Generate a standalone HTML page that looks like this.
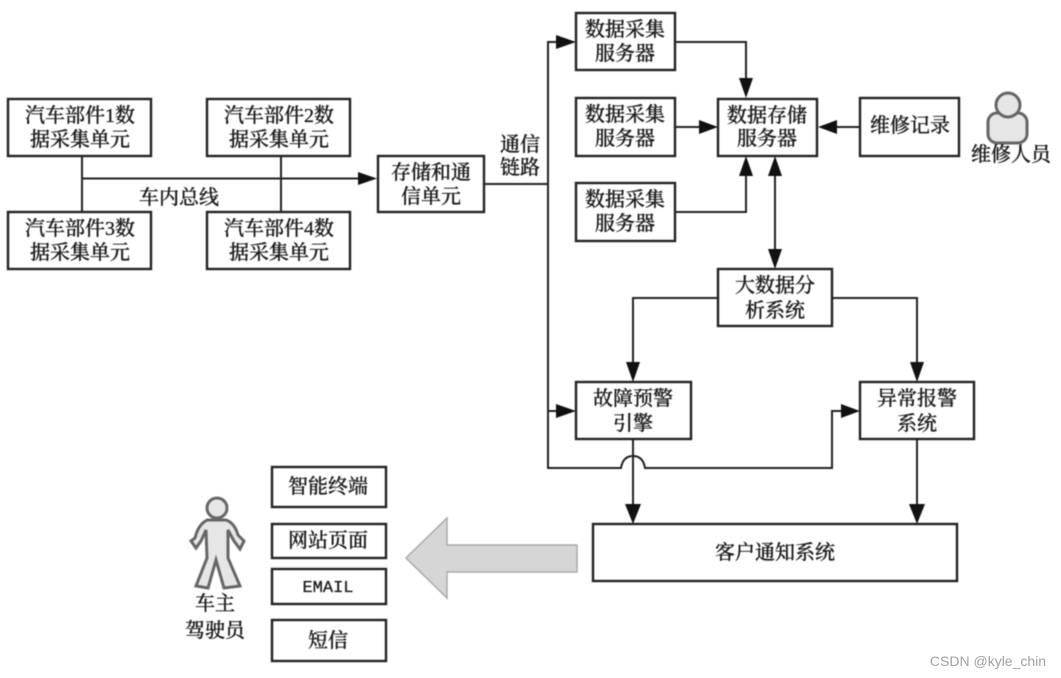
<!DOCTYPE html>
<html lang="zh">
<head>
<meta charset="utf-8">
<style>
html,body{margin:0;padding:0;background:#fff;}
svg{display:block;}
text{font-family:"Liberation Serif","Noto Serif CJK SC",serif;font-size:20px;fill:#1c1c1c;stroke:#1c1c1c;stroke-width:0.3;text-anchor:middle;font-weight:500;}
.b{fill:#fff;stroke:#222;stroke-width:2.4;}
.l{fill:none;stroke:#222;stroke-width:2;}
.a{fill:#111;stroke:none;}
.p{fill:#e6e6e6;stroke:#666;stroke-width:3;}
</style>
</head>
<body>
<svg width="1061" height="678" viewBox="0 0 1061 678" xmlns="http://www.w3.org/2000/svg">
<g style="filter:blur(0.5px)">
<!-- connectors -->
<path class="l" d="M82 156V212M281 156V212M82 178.500H362"/>
<path class="l" d="M484 184H548M560 42H548V468H621Q623 456 633 456Q643 456 645 468H832V411H845"/>
<path class="l" d="M548 411H560"/>
<path class="l" d="M675 42H746V80M675 127H702M675 212H746V172M860 127H834M775 170V255"/>
<path class="l" d="M718 298H633V366M832 298H917V366"/>
<path class="l" d="M633 439V510M917 439V510"/>
<!-- arrowheads -->
<path class="a" d="M377 178.500L358 172V185Z"/>
<path class="a" d="M576 42L556 35V49Z"/>
<path class="a" d="M576 411L556 404V418Z"/>
<path class="a" d="M860 411L841 404V418Z"/>
<path class="a" d="M746 98L739 78H753Z"/>
<path class="a" d="M718 127L699 120V134Z"/>
<path class="a" d="M746 156L739 176H753Z"/>
<path class="a" d="M818 127L837 120V134Z"/>
<path class="a" d="M775 156L768 176H782Z"/>
<path class="a" d="M775 269L768 249H782Z"/>
<path class="a" d="M633 382L626 362H640Z"/>
<path class="a" d="M917 382L910 362H924Z"/>
<path class="a" d="M633 524L625 504H641Z"/>
<path class="a" d="M917 524L909 504H925Z"/>
<!-- boxes -->
<rect class="b" x="8" y="99" width="143" height="57"/>
<rect class="b" x="207" y="99" width="143" height="57"/>
<rect class="b" x="8" y="212" width="143" height="57"/>
<rect class="b" x="207" y="212" width="143" height="57"/>
<rect class="b" x="378" y="156" width="106" height="56"/>
<rect class="b" x="576" y="13" width="99" height="57"/>
<rect class="b" x="576" y="98" width="99" height="58"/>
<rect class="b" x="576" y="183" width="99" height="58"/>
<rect class="b" x="718" y="99" width="99" height="57"/>
<rect class="b" x="860" y="98" width="99" height="58"/>
<rect class="b" x="718" y="269" width="114" height="57"/>
<rect class="b" x="576" y="382" width="115" height="57"/>
<rect class="b" x="860" y="382" width="114" height="57"/>
<rect class="b" x="593" y="524" width="364" height="57"/>
<rect class="b" x="272" y="467" width="114" height="40"/>
<rect class="b" x="272" y="524" width="114" height="34"/>
<rect class="b" x="272" y="569" width="114" height="35"/>
<rect class="b" x="272" y="620" width="114" height="41"/>
<!-- big arrow -->
<path d="M577 545H447V518L406 558L447 598V572H577Z" fill="#d6d6d6" stroke="#aaa" stroke-width="1.500"/>
<!-- maintenance person -->
<rect class="p" x="988" y="113" width="39" height="30" rx="9"/>
<circle class="p" cx="1008" cy="105" r="12"/>
<!-- driver person -->
<path class="p" d="M207 520C200 524 197 530 195 538L191 541L196 548L201 541L206 530L207 558L196 586L208 588L216 560L224 588L240 586L228 558L228 530L234 541L240 549L244 541L238 535C236 528 232 522 226 520Z"/>
<ellipse class="p" cx="217" cy="508" rx="10" ry="10"/>
<!-- labels -->
<text x="80" y="122">汽车部件1数</text>
<text x="80" y="146">据采集单元</text>
<text x="279" y="122">汽车部件2数</text>
<text x="279" y="146">据采集单元</text>
<text x="80" y="235">汽车部件3数</text>
<text x="80" y="259">据采集单元</text>
<text x="279" y="235">汽车部件4数</text>
<text x="279" y="259">据采集单元</text>
<text x="179" y="204">车内总线</text>
<text x="431" y="179">存储和通</text>
<text x="431" y="203">信单元</text>
<text x="520" y="151">通信</text>
<text x="520" y="174">链路</text>
<text x="625" y="36">数据采集</text>
<text x="625" y="60">服务器</text>
<text x="625" y="121">数据采集</text>
<text x="625" y="145">服务器</text>
<text x="625" y="206">数据采集</text>
<text x="625" y="230">服务器</text>
<text x="767" y="122">数据存储</text>
<text x="767" y="145">服务器</text>
<text x="910" y="132">维修记录</text>
<text x="1011" y="161">维修人员</text>
<text x="775" y="292">大数据分</text>
<text x="775" y="317">析系统</text>
<text x="633" y="405">故障预警</text>
<text x="633" y="430">引擎</text>
<text x="917" y="405">异常报警</text>
<text x="917" y="430">系统</text>
<text x="775" y="559">客户通知系统</text>
<text x="328" y="493">智能终端</text>
<text x="328" y="547">网站页面</text>
<text x="328" y="592" style="font-family:'Liberation Mono',monospace;font-size:17px;font-weight:400;">EMAIL</text>
<text x="328" y="647">短信</text>
<text x="215" y="610">车主</text>
<text x="215" y="637">驾驶员</text>
</g>
<text x="988" y="666" style="font-family:'Liberation Sans',sans-serif;font-size:14px;fill:#a0a0a0;stroke:none;font-weight:400">CSDN @kyle_chin</text>
</svg>
</body>
</html>
